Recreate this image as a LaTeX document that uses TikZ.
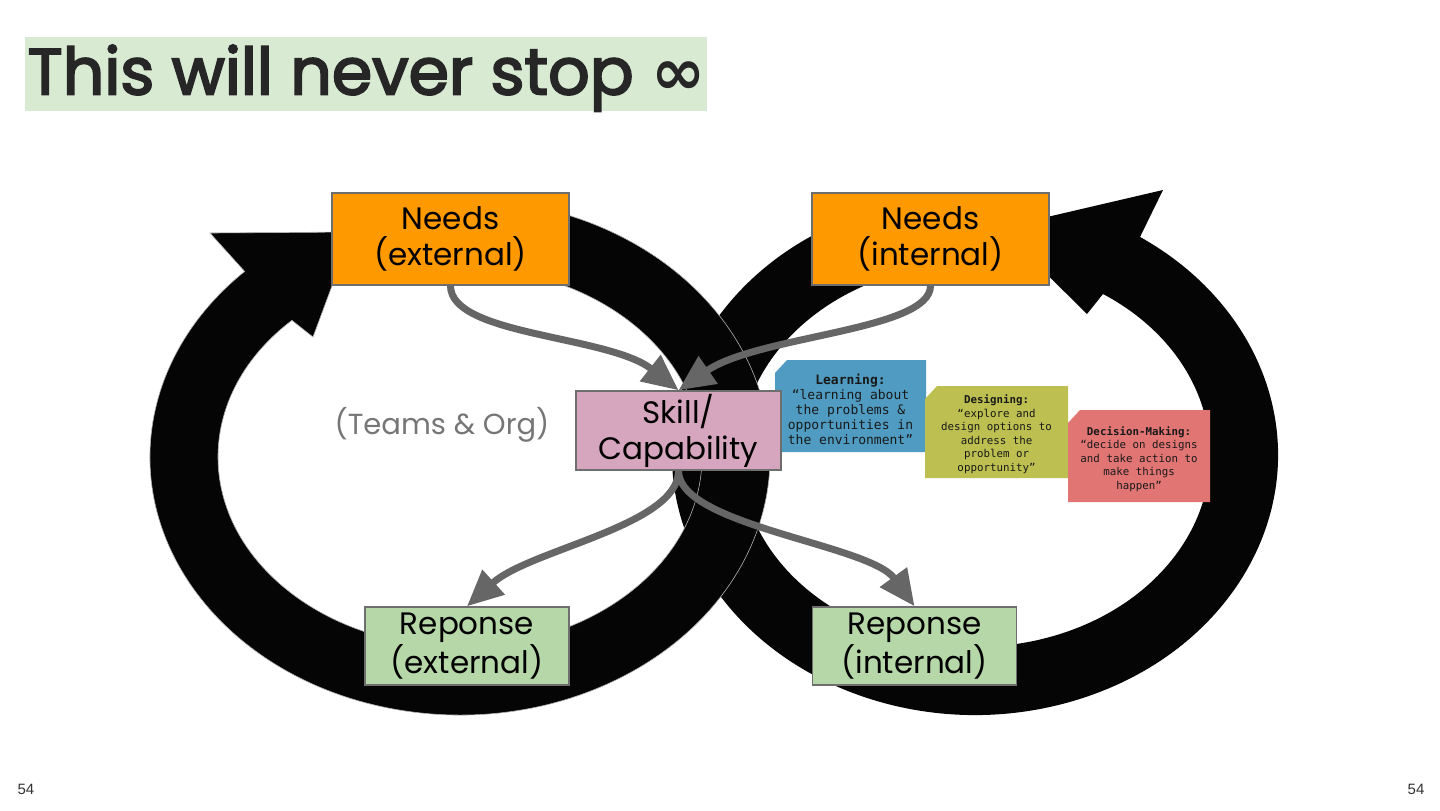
\documentclass[tikz,border=0pt]{standalone}
\usepackage{fontspec}
\setmainfont{Poppins}
\newfontfamily\titlefont[FakeBold=3]{Poppins}
\newfontfamily\monofont{DejaVu Sans Mono}
\newfontfamily\symfont{DejaVu Sans}
\newfontfamily\pagefont{Liberation Sans}
\usetikzlibrary{arrows.meta,calc}
\definecolor{TitleGreen}{RGB}{217,234,211}
\definecolor{NeedsOrange}{RGB}{255,153,0}
\definecolor{SkillPink}{RGB}{213,166,189}
\definecolor{ReponseGreen}{RGB}{182,215,168}
\definecolor{BorderGray}{RGB}{110,110,110}
\definecolor{LinkGray}{RGB}{102,102,102}
\definecolor{TeamGray}{RGB}{118,118,118}
\definecolor{LearnBlue}{RGB}{79,155,193}
\definecolor{DesignOlive}{RGB}{189,192,80}
\definecolor{DecideRed}{RGB}{224,117,116}
\definecolor{RingBlack}{RGB}{5,5,5}
\newcommand\snipbox[5]{\fill[#1] (#2,#3+13) -- (#2+12,#3) -- (#4,#3) -- (#4,#5) -- (#2,#5) -- cycle;}
\tikzset{
  box/.style={draw=BorderGray,line width=0.75pt,inner sep=0pt,align=center,
    font=\fontsize{15.5}{18}\selectfont},
  needs/.style={box,fill=NeedsOrange,minimum width=118.5pt,minimum height=46pt},
  skillbox/.style={box,fill=SkillPink,minimum width=102.5pt,minimum height=39.5pt},
  reponse/.style={box,fill=ReponseGreen,minimum width=102pt,minimum height=39pt},
  phasetext/.style={inner sep=0pt,align=center,text=black!90},
  link/.style={draw=LinkGray,line width=3.5pt,-{Triangle[length=18pt,width=16pt]}},
  ring/.style={fill=RingBlack}
}

\begin{document}
\begin{tikzpicture}[x=0.5pt,y=-0.5pt]
  \useasboundingbox (0,0) rectangle (1440,810);
  \node[fill=TitleGreen,anchor=north west,minimum width=341pt,minimum height=37pt,inner sep=0pt,
    text height=28.5pt,text depth=8.5pt,text=black!85,font=\titlefont\fontsize{32.5}{38}\selectfont]
    (title) at (25,37) {This will never stop {\symfont\bfseries ∞}};

  % the two loops
  \coordinate (rc) at (975,455);
  \coordinate (lc) at (460,457);
  \fill[ring] ($(rc)+(250:303 and 260)$) arc[start angle=250,end angle=-57,x radius=303,y radius=260]
    -- (1163,190) -- (1000,228) -- (1087,314) -- ($(rc)+(-57:235 and 192)$)
    arc[start angle=-57,end angle=250,x radius=235,y radius=192] -- cycle;
  \filldraw[ring,draw=white!70!black,line width=0.3pt] ($(lc)+(280:310 and 258)$)
    arc[start angle=280,end angle=586,x radius=310,y radius=258]
    -- (210,233) -- (352,232) -- (313,337) -- ($(lc)+(226:242 and 190)$)
    arc[start angle=586,end angle=280,x radius=242,y radius=190] -- cycle;

  \snipbox{LearnBlue}{775}{360}{926}{452}
  \snipbox{DesignOlive}{925}{386}{1068}{478}
  \snipbox{DecideRed}{1068}{410}{1210}{502}
  \node[phasetext,font=\monofont\fontsize{6.5}{7.5}\selectfont] (learn) at (850.5,409)
    {\textbf{Learning:}\\“learning about\\the problems \&\\opportunities in\\the environment”};
  \node[phasetext,font=\monofont\fontsize{5.4}{6.75}\selectfont] (design) at (996.5,434)
    {\textbf{Designing:}\\“explore and\\design options to\\address the\\problem or\\opportunity”};
  \node[phasetext,font=\monofont\fontsize{5.4}{6.75}\selectfont] (decide) at (1139,459)
    {\textbf{Decision-Making:}\\“decide on designs\\and take action to\\make things\\happen”};

  \node[needs] (nex) at (450.5,239) {Needs\\(external)};
  \node[needs] (nin) at (930.5,239) {Needs\\(internal)};
  \node[skillbox] (skill) at (678.5,430.5) {Skill/\\Capability};
  \node[reponse] (rex) at (467,646) {Reponse\\(external)};
  \node[reponse] (rin) at (914.5,646) {Reponse\\(internal)};
  \node[text=TeamGray,font=\fontsize{14.5}{18}\selectfont] (teams) at (442,425) {(Teams \& Org)};

  \draw[link] (nex.south) .. controls +(0,50) and +(-70,-55) .. (skill.north);
  \draw[link] (nin.south) .. controls +(0,45) and +(80,-55) .. (skill.north);
  \draw[link] (skill.south) .. controls +(0,55) and +(63,-57) .. (rex.north);
  \draw[link] (skill.south) .. controls +(0,55) and +(-45,-62) .. (rin.north);

  \node[font=\pagefont\fontsize{7.5}{9}\selectfont,text=black!80] (pgl) at (26,789) {54};
  \node[font=\pagefont\fontsize{7.5}{9}\selectfont,text=black!80] (pgr) at (1416,789) {54};
\end{tikzpicture}
\end{document}
